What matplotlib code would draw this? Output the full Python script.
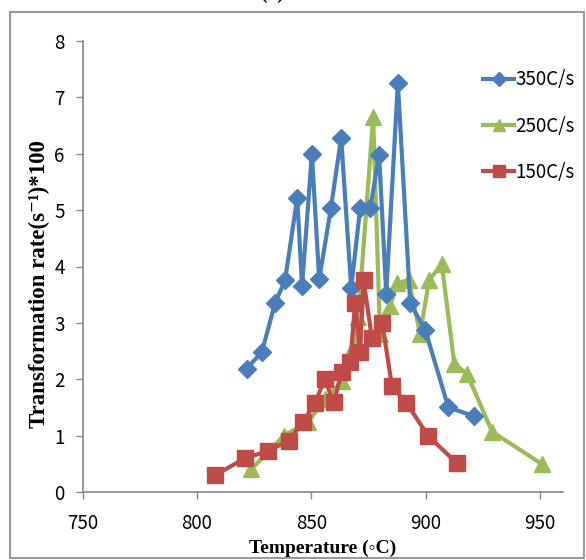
import matplotlib
matplotlib.use("Agg")
import matplotlib.pyplot as plt
from matplotlib.patches import Rectangle
from matplotlib.lines import Line2D

# ---- data ----
t350 = [821.7, 828.3, 834.2, 838.5, 843.8, 845.9, 850.2, 853.4, 858.5, 863.0,
        867.4, 871.3, 875.7, 879.6, 882.7, 887.8, 893.2, 899.8, 909.9, 920.9]
r350 = [2.19, 2.48, 3.36, 3.76, 5.22, 3.65, 6.00, 3.77, 5.03, 6.28,
        3.62, 5.03, 5.03, 5.98, 3.52, 7.26, 3.35, 2.87, 1.50, 1.35]

t250 = [823.6, 838.0, 848.7, 856.0, 863.3, 868.5, 870.5, 877.0, 880.0, 884.4,
        887.5, 892.5, 897.5, 901.5, 907.0, 912.5, 918.0, 929.0, 950.6]
r250 = [0.40, 1.00, 1.25, 1.65, 1.97, 2.60, 3.10, 6.65, 2.80, 3.30,
        3.70, 3.76, 2.81, 3.76, 4.04, 2.27, 2.10, 1.07, 0.50]

t150 = [807.9, 821.0, 831.2, 840.0, 846.5, 851.6, 855.8, 859.7, 863.3, 867.0,
        869.1, 871.3, 872.8, 876.4, 881.0, 885.2, 891.5, 901.0, 913.6]
r150 = [0.30, 0.60, 0.73, 0.91, 1.25, 1.58, 2.00, 1.59, 2.13, 2.31,
        3.35, 2.49, 3.76, 2.74, 2.99, 1.88, 1.58, 1.00, 0.51]

labels = ["350C/s", "250C/s", "150C/s"]
xticks = [750, 800, 850, 900, 950]
yticks = [0, 1, 2, 3, 4, 5, 6, 7, 8]

# ---- style ----
blue, green, red = "#4A7EBB", "#9BBB59", "#BE4B48"
axis_grey = "#868686"
tick_font = ["Noto Sans CJK JP", "DejaVu Sans"]
serif_font = ["Liberation Serif", "DejaVu Serif"]

W, H = 586, 560
fig = plt.figure(figsize=(W / 100, H / 100), dpi=100)

# outer frame
fig.patches.append(Rectangle((10 / W, 2 / H), 574 / W, 1 - 14 / H,
                             transform=fig.transFigure, fill=False,
                             edgecolor="#9a9a9a", linewidth=1.5))
# title, clipped at the top edge as in the reference
fig.text(272 / W, 1 + 1 / H, "(b)", ha="center", va="baseline",
         fontsize=14, family=serif_font, fontweight="bold")

ax = fig.add_axes([82.7 / W, 1 - 492 / H, (563 - 82.7) / W, (492 - 41) / H])
ax.set_xlim(750, 960)
ax.set_ylim(0, 8)

lw = 3.0
ax.plot(t350, r350, color=blue, lw=lw, marker="D", markersize=9.5,
        markeredgecolor=blue, label=labels[0], zorder=3)
ax.plot(t250, r250, color=green, lw=lw, marker="^", markersize=12,
        markeredgecolor=green, label=labels[1], zorder=2)
ax.plot(t150, r150, color=red, lw=lw, marker="s", markersize=11,
        markeredgecolor=red, label=labels[2], zorder=4)

for s in ["top", "right"]:
    ax.spines[s].set_visible(False)
for s in ["left", "bottom"]:
    ax.spines[s].set_color(axis_grey)
    ax.spines[s].set_linewidth(1.2)

ax.set_xticks(xticks)
ax.set_yticks(yticks)
ax.tick_params(axis="both", direction="out", length=5, width=1.0,
               color=axis_grey, labelsize=13.5, pad=10)
ax.tick_params(axis="y", pad=8)
for lab in ax.get_xticklabels() + ax.get_yticklabels():
    lab.set_family(tick_font)

ax.set_xlabel("Temperature (\u25e6C)", family=serif_font, fontweight="bold",
              fontsize=14)
ax.xaxis.set_label_coords(0.5, -0.105)
ax.set_ylabel("Transformation rate(s\u207b\u00b9)*100", family=serif_font,
              fontweight="bold", fontsize=16.5)
ax.yaxis.set_label_coords(-0.068, 0.46)

handles = [Line2D([], [], color=c, lw=lw, marker=m, markersize=ms)
           for c, m, ms in [(blue, "D", 7), (green, "^", 8), (red, "s", 8)]]
leg = ax.legend(handles, labels, loc="upper left",
                bbox_to_anchor=(474 / W, 1 - 60 / H),
                bbox_transform=fig.transFigure, frameon=False, borderpad=0,
                handlelength=1.65, handletextpad=0.05, labelspacing=1.35,
                prop={"family": tick_font, "size": 13.5})

fig.savefig("out.png", dpi=100)
